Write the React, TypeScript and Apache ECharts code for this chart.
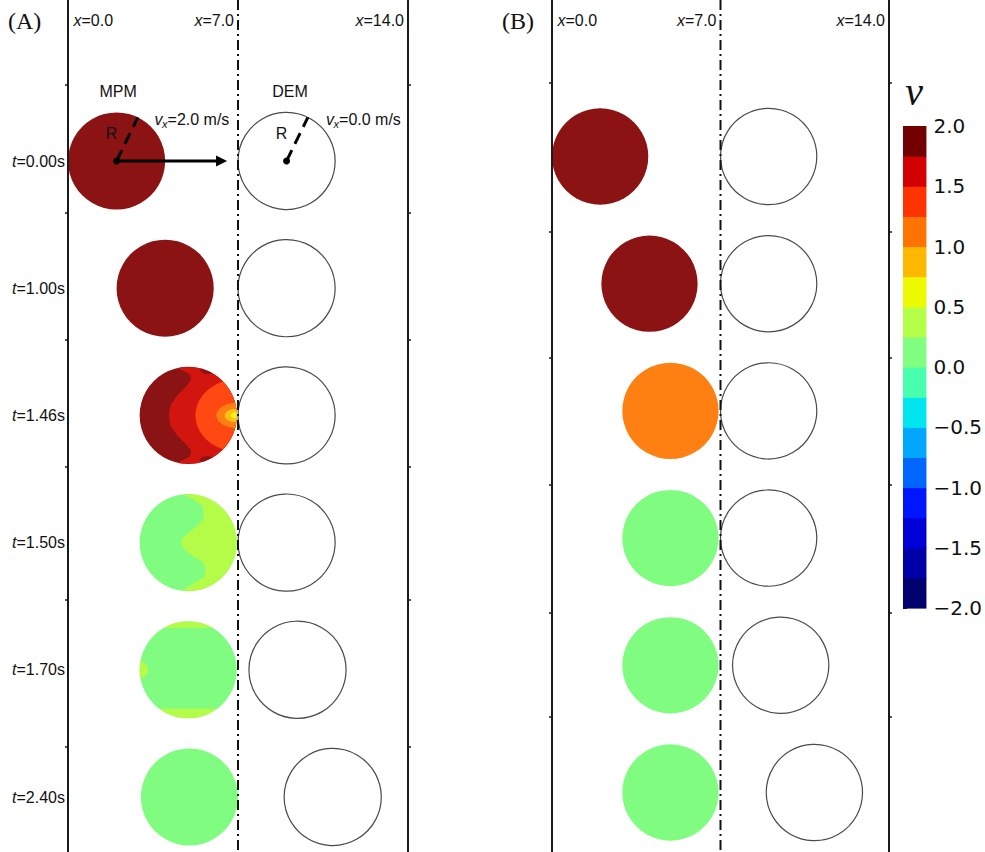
import React, { useEffect, useRef } from "react";
import * as echarts from "echarts";

// ---------------- data ----------------
const TIME_LABELS = ["0.00", "1.00", "1.46", "1.50", "1.70", "2.40"];
const ROWS = [0, 1, 2, 3, 4, 5];
const RADIUS = 2.0;
const X_MARKS = [0, 7, 14];
const INTERFACE_X = 7;

// panel (A): MPM particle (left) coloured by velocity, DEM particle (right)
const MPM_X_A = [2.0, 4.0, 4.95, 4.95, 4.95, 5.0];
const MPM_V_A = [2.0, 2.0, 1.9, 0.1, 0.1, 0.1];
const DEM_X_A = [9.0, 9.0, 9.0, 9.0, 9.45, 10.9];

// panel (B)
const MPM_X_B = [2.0, 4.05, 4.92, 4.92, 4.92, 4.92];
const MPM_V_B = [2.0, 2.0, 1.1, 0.1, 0.1, 0.1];
const DEM_X_B = [9.0, 9.0, 9.0, 9.0, 9.5, 10.9];

const VX_MPM = "2.0";
const VX_DEM = "0.0";
const ARROW_TIP_X = 6.55;

// contour patches inside the MPM disc of panel (A) (normalised disc coords: u right, v up)
const A_RED_FRONT = [
  [1.0, -0.3], [0.92, -0.1], [0.84, 0.04], [0.72, 0.06], [0.58, -0.06], [0.42, -0.22],
  [0.22, -0.36], [0.0, -0.4], [-0.22, -0.36], [-0.42, -0.22], [-0.58, -0.06],
  [-0.72, 0.06], [-0.84, 0.04], [-0.92, -0.1], [-1.0, -0.3],
];
const A_GREEN_FRONT = [
  [1.0, -0.15], [0.9, 0.1], [0.75, 0.3], [0.5, 0.32], [0.35, 0.2], [0.2, 0.0],
  [0.05, -0.14], [-0.1, -0.12], [-0.25, 0.05], [-0.4, 0.3], [-0.55, 0.36],
  [-0.7, 0.33], [-0.85, 0.1], [-1.0, -0.15],
];
const A_FRONTS = [
  { row: 2, vel: 1.6, pts: A_RED_FRONT },
  { row: 3, vel: 0.3, pts: A_GREEN_FRONT },
];
// [row, velocity, centre u, centre v, half-width, half-height]
const A_ELLIPSES = [
  [2, 1.9, 0.41, 0.93, 0.16, 0.08],
  [2, 1.9, 0.39, -0.92, 0.15, 0.08],
  [2, 1.4, 1.05, 0.0, 0.9, 0.75],
  [2, 1.1, 1.0, 0.0, 0.42, 0.26],
  [2, 0.9, 1.0, 0.0, 0.25, 0.14],
  [2, 0.6, 1.0, 0.0, 0.12, 0.07],
  [4, 0.3, -1.0, 0.0, 0.17, 0.17],
];
// [row, velocity, v min, v max]
const A_BANDS = [
  [4, 0.3, 0.86, 1.0],
  [4, 0.3, -1.0, -0.8],
];

// colour bar
const LEVELS = [-2, -1.75, -1.5, -1.25, -1, -0.75, -0.5, -0.25, 0, 0.25, 0.5, 0.75, 1, 1.25, 1.5, 1.75, 2];
const CBAR_COLORS = [
  "#00006e", "#0000a8", "#0000d8", "#0016ff", "#0066ff", "#00a6ff", "#00e6ee", "#48ffae",
  "#80ff80", "#b6ff48", "#eefa00", "#ffb800", "#ff7400", "#ff3300", "#d20000", "#720000",
];
const FIELD_COLORS = [
  "#00006e", "#0000a8", "#0000d8", "#0016ff", "#0066ff", "#00a6ff", "#00e6ee", "#48ffae",
  "#80fd80", "#b5fc48", "#f0f514", "#ffbf14", "#ff8012", "#ff4812", "#d2160f", "#8b1313",
];

// ---------------- helpers ----------------
const SANS = "'Liberation Sans', Arial, sans-serif";
const SERIF = "'Liberation Serif', 'Times New Roman', serif";
const INK = "#111";

function levelIndex(v: number) {
  for (let i = 0; i < LEVELS.length - 1; i++) {
    if (v >= LEVELS[i] && v < LEVELS[i + 1]) return i;
  }
  return v >= 2 ? 15 : 0;
}

function interp(pts: number[][], v: number) {
  for (let i = 0; i < pts.length - 1; i++) {
    const a = pts[i], b = pts[i + 1];
    if (v <= a[0] && v >= b[0]) {
      const t = (v - a[0]) / (b[0] - a[0] || 1);
      return a[1] + t * (b[1] - a[1]);
    }
  }
  return pts[pts.length - 1][1];
}

type Region =
  | { kind: "front"; pts: number[][] }
  | { kind: "ellipse"; cu: number; cv: number; a: number; b: number }
  | { kind: "band"; lo: number; hi: number };

function regionPoints(reg: Region) {
  const N = 240;
  const left: number[][] = [];
  const right: number[][] = [];
  for (let k = 0; k <= N; k++) {
    const v = -1 + (2 * k) / N;
    const w = Math.sqrt(Math.max(0, 1 - v * v));
    let lo = -w, hi = w;
    if (reg.kind === "front") {
      lo = Math.max(lo, interp(reg.pts, v));
    } else if (reg.kind === "ellipse") {
      const t = (v - reg.cv) / reg.b;
      if (Math.abs(t) > 1) continue;
      const h = reg.a * Math.sqrt(1 - t * t);
      lo = Math.max(lo, reg.cu - h);
      hi = Math.min(hi, reg.cu + h);
    } else {
      if (v < reg.lo || v > reg.hi) continue;
    }
    if (hi > lo) {
      left.push([lo, v]);
      right.push([hi, v]);
    }
  }
  return left.concat(right.reverse());
}

function patchesForRow(row: number) {
  const out: { vel: number; reg: Region }[] = [];
  A_FRONTS.filter((f) => f.row === row).forEach((f) => out.push({ vel: f.vel, reg: { kind: "front", pts: f.pts } }));
  A_ELLIPSES.filter((e) => e[0] === row).forEach((e) =>
    out.push({ vel: e[1], reg: { kind: "ellipse", cu: e[2], cv: e[3], a: e[4], b: e[5] } })
  );
  A_BANDS.filter((b) => b[0] === row).forEach((b) => out.push({ vel: b[1], reg: { kind: "band", lo: b[2], hi: b[3] } }));
  return out;
}

function mpmRender(withPatches: boolean) {
  return (params: any, api: any) => {
    const c = api.coord([api.value(0), api.value(1)]);
    const r = api.size([RADIUS, 0])[0];
    const row = api.value(1);
    const children: any[] = [
      { type: "circle", shape: { cx: c[0], cy: c[1], r }, style: { fill: FIELD_COLORS[levelIndex(api.value(2))] } },
    ];
    if (withPatches) {
      patchesForRow(row).forEach((p) => {
        const pts = regionPoints(p.reg).map((q) => [c[0] + q[0] * r, c[1] - q[1] * r]);
        if (pts.length > 2)
          children.push({ type: "polygon", shape: { points: pts }, style: { fill: FIELD_COLORS[levelIndex(p.vel)] } });
      });
    }
    return { type: "group", children };
  };
}

function demRender(params: any, api: any) {
  const c = api.coord([api.value(0), api.value(1)]);
  const r = api.size([RADIUS, 0])[0];
  return {
    type: "circle",
    shape: { cx: c[0], cy: c[1], r },
    style: { fill: "none", stroke: "#4a4a4a", lineWidth: 1.2 },
  };
}

function interfaceRender(params: any, api: any) {
  const x = api.coord([api.value(0), 0])[0];
  const cs = params.coordSys;
  return {
    type: "line",
    shape: { x1: x, y1: cs.y, x2: x, y2: cs.y + cs.height },
    style: { stroke: INK, lineWidth: 2, lineDash: [10, 4, 2, 4] },
  };
}

function xLabelRender(params: any, api: any) {
  const val = api.value(0);
  const x = api.coord([val, 0])[0];
  const cs = params.coordSys;
  const isFirst = val === X_MARKS[0];
  return {
    type: "text",
    style: {
      text: "{i|x}{n|=" + val.toFixed(1) + "}",
      rich: {
        i: { fontStyle: "italic", fontSize: 16, fontFamily: SANS, fill: INK, color: INK },
        n: { fontSize: 16, fontFamily: SANS, fill: INK, color: INK },
      },
      fontSize: 16,
      fontFamily: SANS,
      fill: INK,
      x: isFirst ? x + 5.5 : x - 4,
      y: cs.y + 20.5,
      align: isFirst ? "left" : "right",
      verticalAlign: "middle",
    },
  };
}

function txt(text: string, x: number, y: number, size: number, align: string, italic = false) {
  return {
    type: "text",
    style: {
      text, x, y, fontSize: size, fontFamily: SANS, fontStyle: italic ? "italic" : "normal",
      fill: INK, align, verticalAlign: "middle",
    },
  };
}

function annotationRender(params: any, api: any) {
  const row = api.value(1);
  const m = api.coord([api.value(0), row]);
  const d = api.coord([api.value(2), row]);
  const tip = api.coord([api.value(3), row]);
  const r = api.size([RADIUS, 0])[0];
  const ang = (64 * Math.PI) / 180;
  const dx = Math.cos(ang) * r;
  const dy = -Math.sin(ang) * r;
  const children: any[] = [];
  children.push({ type: "line", shape: { x1: m[0], y1: m[1], x2: tip[0] - 8, y2: m[1] }, style: { stroke: "#000", lineWidth: 3 } });
  children.push({
    type: "polygon",
    shape: { points: [[tip[0], m[1]], [tip[0] - 11, m[1] - 5.5], [tip[0] - 11, m[1] + 5.5]] },
    style: { fill: "#000" },
  });
  [m, d].forEach((c) => {
    children.push({
      type: "line",
      shape: { x1: c[0], y1: c[1], x2: c[0] + dx, y2: c[1] + dy },
      style: { stroke: "#000", lineWidth: 3, lineDash: [12, 7] },
    });
    children.push({ type: "circle", shape: { cx: c[0], cy: c[1], r: 3.5 }, style: { fill: "#000" } });
    children.push(txt("R", c[0] - 5, c[1] - 28, 16, "center"));
  });
  children.push(txt("MPM", m[0] + 1.5, m[1] - 70, 16, "center"));
  children.push(txt("DEM", d[0] + 3.5, d[1] - 70, 16, "center"));
  const vlab = (x0: number, y0: number, val: string) => {
    children.push(txt("v", x0, y0, 16, "left", true));
    children.push(txt("x", x0 + 7.5, y0 + 5, 11, "left", true));
    children.push(txt("=" + val + " m/s", x0 + 13, y0, 16, "left"));
  };
  vlab(m[0] + 38, m[1] - 42, VX_MPM);
  vlab(d[0] + 39.5, d[1] - 42, VX_DEM);
  return { type: "group", children };
}

function colorbarRender(params: any, api: any) {
  const p1 = api.coord([0, api.value(1)]);
  const p2 = api.coord([1, api.value(0)]);
  return {
    type: "rect",
    shape: { x: p1[0], y: p1[1], width: p2[0] - p1[0], height: p2[1] - p1[1] + 0.6 },
    style: { fill: CBAR_COLORS[api.value(2)] },
  };
}

// ---------------- layout constants ----------------
const ROW_PX = 127.2;
const A_ROW0 = 161;
const B_ROW0 = 156.5;
const H = 852;
const A_MIN = -A_ROW0 / ROW_PX, A_MAX = (H - A_ROW0) / ROW_PX;
const B_MIN = -B_ROW0 / ROW_PX, B_MAX = (H - B_ROW0) / ROW_PX;
const A_TICKS = [85, 213, 340, 467, 600, 747].map((p) => (p - A_ROW0) / ROW_PX);
const B_TICKS = [83, 232, 358, 485, 613, 717].map((p) => (p - B_ROW0) / ROW_PX);

function panelY(grid: number, pos: string, min: number, max: number, ticks: number[], labels: boolean) {
  return {
    type: "value",
    gridIndex: grid,
    position: pos,
    inverse: true,
    min,
    max,
    z: 6,
    axisLine: { show: true, onZero: false, lineStyle: { color: "#1a1a1a", width: 2 } },
    axisTick: { show: true, inside: false, length: 3, customValues: ticks, lineStyle: { color: "#1a1a1a", width: 1.5 } },
    axisLabel: labels
      ? {
          show: true,
          customValues: ROWS,
          margin: 3,
          formatter: (val: number) => "{i|t}{n|=" + TIME_LABELS[Math.round(val)] + "s}",
          rich: {
            i: { fontStyle: "italic", fontSize: 16, fontFamily: SANS, color: INK },
            n: { fontSize: 16, fontFamily: SANS, color: INK },
          },
        }
      : { show: false },
    splitLine: { show: false },
  };
}

function buildOption() {
  const panelSeries = (
    xi: number, yi: number, mx: number[], mv: number[], dxs: number[], patches: boolean
  ) => [
    {
      type: "custom", coordinateSystem: "cartesian2d", xAxisIndex: xi, yAxisIndex: yi, z: 2,
      data: ROWS.map((i) => [mx[i], i, mv[i]]), renderItem: mpmRender(patches),
    },
    {
      type: "custom", coordinateSystem: "cartesian2d", xAxisIndex: xi, yAxisIndex: yi, z: 2,
      data: ROWS.map((i) => [dxs[i], i]), renderItem: demRender,
    },
    {
      type: "custom", coordinateSystem: "cartesian2d", xAxisIndex: xi, yAxisIndex: yi, z: 3,
      data: [[INTERFACE_X, 0]], renderItem: interfaceRender,
    },
    {
      type: "custom", coordinateSystem: "cartesian2d", xAxisIndex: xi, yAxisIndex: yi, z: 4,
      data: X_MARKS.map((v) => [v, 0]), renderItem: xLabelRender,
    },
  ];

  return {
    animation: false,
    backgroundColor: "#ffffff",
    grid: [
      { left: 68, top: 0, width: 340, height: H },
      { left: 552, top: 0, width: 337, height: H },
      { left: 903, top: 126, width: 26, height: 482 },
    ],
    xAxis: [
      { type: "value", gridIndex: 0, min: 0, max: 14, show: false },
      { type: "value", gridIndex: 1, min: 0, max: 14, show: false },
      { type: "value", gridIndex: 2, min: 0, max: 1, show: false },
    ],
    yAxis: [
      panelY(0, "left", A_MIN, A_MAX, A_TICKS, true),
      panelY(0, "right", A_MIN, A_MAX, A_TICKS, false),
      panelY(1, "left", B_MIN, B_MAX, B_TICKS, false),
      panelY(1, "right", B_MIN, B_MAX, B_TICKS, false),
      {
        type: "value",
        gridIndex: 2,
        position: "right",
        min: -2,
        max: 2,
        interval: 0.5,
        axisLine: { show: false },
        axisTick: { show: true, length: 4, inside: false, lineStyle: { color: "#222", width: 1 } },
        axisLabel: {
          show: true,
          margin: 7,
          showMinLabel: true,
          showMaxLabel: true,
          fontFamily: "'DejaVu Sans', sans-serif",
          fontSize: 20,
          color: INK,
          formatter: (v: number) => v.toFixed(1).replace("-", "\u2212"),
        },
        splitLine: { show: false },
      },
    ],
    graphic: [
      { type: "text", x: 8, y: 21, style: { text: "(A)", fontSize: 24, fontFamily: SERIF, fill: INK, align: "left", verticalAlign: "middle" } },
      { type: "text", x: 502, y: 21, style: { text: "(B)", fontSize: 24, fontFamily: SERIF, fill: INK, align: "left", verticalAlign: "middle" } },
      { type: "text", x: 914, y: 91, style: { text: "v", fontSize: 40, fontStyle: "italic", fontFamily: SERIF, fill: INK, align: "center", verticalAlign: "middle" } },
    ],
    series: [
      ...panelSeries(0, 0, MPM_X_A, MPM_V_A, DEM_X_A, true),
      {
        type: "custom", coordinateSystem: "cartesian2d", xAxisIndex: 0, yAxisIndex: 0, z: 5,
        data: [[MPM_X_A[0], 0, DEM_X_A[0], ARROW_TIP_X]], renderItem: annotationRender,
      },
      ...panelSeries(1, 2, MPM_X_B, MPM_V_B, DEM_X_B, false),
      {
        type: "custom", coordinateSystem: "cartesian2d", xAxisIndex: 2, yAxisIndex: 4, z: 2,
        data: CBAR_COLORS.map((c, i) => [LEVELS[i], LEVELS[i + 1], i]), renderItem: colorbarRender,
      },
    ],
  };
}

export default function App() {
  const ref = useRef<HTMLDivElement>(null);
  useEffect(() => {
    document.body.style.margin = "0";
    const chart = echarts.init(ref.current as HTMLDivElement, null, { renderer: "svg" });
    chart.setOption(buildOption() as any);
    return () => chart.dispose();
  }, []);
  return <div ref={ref} style={{ width: 985, height: 852, background: "#fff" }} />;
}
